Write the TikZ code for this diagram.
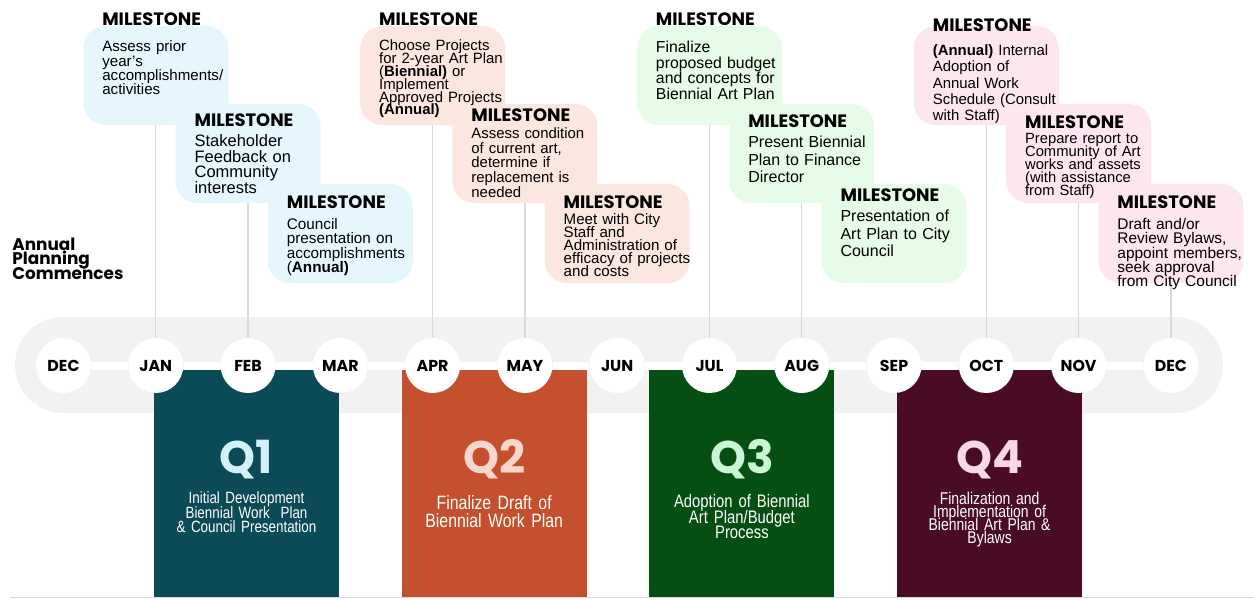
\documentclass[tikz,border=0pt]{standalone}
\usepackage{fontspec}
\setmainfont{Liberation Sans}
\newfontfamily\gothic{Poppins}
\newfontfamily\narrow[FakeStretch=0.82]{Liberation Sans}
\usepackage{tikz}
\usetikzlibrary{positioning}
\usepackage{xcolor}

\definecolor{bandgray}{HTML}{F2F2F2}
\definecolor{stemgray}{HTML}{D9D9D9}
\definecolor{q1col}{HTML}{0B4A57}
\definecolor{q1txt}{HTML}{D2F1F9}
\definecolor{q2col}{HTML}{C4502D}
\definecolor{q2txt}{HTML}{F7D7CD}
\definecolor{q3col}{HTML}{064F13}
\definecolor{q3txt}{HTML}{CBF6D6}
\definecolor{q4col}{HTML}{4A0C25}
\definecolor{q4txt}{HTML}{F9D7E6}
\definecolor{blueish}{HTML}{E5F7FC}
\definecolor{peach}{HTML}{FBE6E0}
\definecolor{mint}{HTML}{E6FCE8}
\definecolor{rose}{HTML}{FDE6EE}

\normallineskiplimit=-20pt
\lineskiplimit=-20pt

\tikzset{
	month/.style={circle, fill=white, minimum size=1.1cm, inner sep=0pt, font=\gothic\bfseries\fontsize{9}{9}\selectfont},
	quarter/.style={rectangle, minimum width=3.7cm, minimum height=4.54cm, inner sep=0pt},
	qnum/.style={anchor=base, inner sep=0pt, font=\gothic\bfseries\fontsize{26}{26}\selectfont},
	qsub/.style 2 args={anchor=base, inner sep=0pt, text width=3.6cm, align=center, text=white, font=\narrow\fontsize{#1}{#2}\selectfont},
	mbox/.style={rectangle, rounded corners=0.44cm, minimum width=2.9cm, minimum height=1.98cm, inner sep=0pt},
	mtitle/.style={anchor=base west, inner sep=0pt, font=\gothic\bfseries\fontsize{10.2}{10.2}\selectfont},
	mtext/.style 2 args={anchor=base west, inner sep=0pt, text width=2.8cm, align=left, font=\fontsize{#1}{#2}\selectfont},
	stem/.style={draw=stemgray, line width=0.7pt},
	strip/.style={draw=white, line width=0.16cm}
}

\begin{document}
\normallineskiplimit=-20pt
\lineskiplimit=-20pt
\begin{tikzpicture}[x=0.02cm, y=-0.02cm, node distance=1.846cm]
		\useasboundingbox (0,0) rectangle (1254,599);
		
		%band and base rule
		\fill[bandgray, rounded corners=0.96cm] (15,317) rectangle (1223,413);
		\draw[stemgray, line width=1pt] (10,597.5) -- (1254,597.5);
		
		%quarters
		\node[quarter, fill=q1col] (q1) at (246.5,483.5) {};
		\node[quarter, fill=q2col, right of=q1, node distance=4.955cm] (q2) {};
		\node[quarter, fill=q3col, right of=q2, node distance=4.955cm] (q3) {};
		\node[quarter, fill=q4col, right of=q3, node distance=4.955cm] (q4) {};
		
		%months
		\node[month] (pdec) at (63.5,365.5) {DEC};
		\node[month, right of=pdec] (jan) {JAN};
		\node[month, right of=jan] (feb) {FEB};
		\node[month, right of=feb] (mar) {MAR};
		\node[month, right of=mar] (apr) {APR};
		\node[month, right of=apr] (may) {MAY};
		\node[month, right of=may] (jun) {JUN};
		\node[month, right of=jun] (jul) {JUL};
		\node[month, right of=jul] (aug) {AUG};
		\node[month, right of=aug] (sep) {SEP};
		\node[month, right of=sep] (oct) {OCT};
		\node[month, right of=oct] (nov) {NOV};
		\node[month, right of=nov] (dec) {DEC};
		\draw[strip] (pdec) -- (jan) -- (feb) -- (mar) -- (apr) -- (may) -- (jun) -- (jul) -- (aug) -- (sep) -- (oct) -- (nov) -- (dec);
		
		%quarter labels
		\node[qnum, text=q1txt] (q1n) at ([shift={(0,104)}]q1.north) {Q1};
		\node[qsub={9.3}{8.3}] (q1s) at ([shift={(0,134)}]q1.north) {Initial Development\\Biennial Work~ Plan\\\& Council Presentation};
		\node[qnum, text=q2txt] (q2n) at ([shift={(0,104)}]q2.north) {Q2};
		\node[qsub={11}{10.2}] (q2s) at ([shift={(0,140)}]q2.north) {Finalize Draft of\\Biennial Work Plan};
		\node[qnum, text=q3txt] (q3n) at ([shift={(0,104)}]q3.north) {Q3};
		\node[qsub={10.3}{8.9}] (q3s) at ([shift={(0,138)}]q3.north) {Adoption of Biennial\\Art Plan/Budget\\Process};
		\node[qnum, text=q4txt] (q4n) at ([shift={(0,104)}]q4.north) {Q4};
		\node[qsub={9.7}{7.4}] (q4s) at ([shift={(0,135)}]q4.north) {Finalization and\\Implementation of\\Biennial Art Plan \&\\Bylaws};
		
		%start
		\node[anchor=base west, inner sep=0pt, text width=4cm, align=left, font=\gothic\bfseries\fontsize{9.6}{8.5}\selectfont] (start) at (12,250) {Annual\\Planning\\Commences};
		
		%milestone boxes
		\node[mbox, fill=blueish, above of=jan, node distance=5.8cm] (mjan) {};
		\node[mbox, fill=blueish, above of=feb, node distance=4.24cm] (mfeb) {};
		\node[mbox, fill=blueish, above of=mar, node distance=2.64cm] (mmar) {};
		\node[mbox, fill=peach, above of=apr, node distance=5.8cm] (mapr) {};
		\node[mbox, fill=peach, above of=may, node distance=4.24cm] (mmay) {};
		\node[mbox, fill=peach, above of=jun, node distance=2.64cm] (mjun) {};
		\node[mbox, fill=mint, above of=jul, node distance=5.8cm] (mjul) {};
		\node[mbox, fill=mint, above of=aug, node distance=4.24cm] (maug) {};
		\node[mbox, fill=mint, above of=sep, node distance=2.64cm] (msep) {};
		\node[mbox, fill=rose, above of=oct, node distance=5.8cm] (moct) {};
		\node[mbox, fill=rose, above of=nov, node distance=4.24cm] (mnov) {};
		\node[mbox, fill=rose, above of=dec, node distance=2.64cm] (mdec) {};
		
		%stems
		\draw[stem] (mjan) -- (jan);
		\draw[stem] (mfeb) -- (feb);
		\draw[stem] (mapr) -- (apr);
		\draw[stem] (mmay) -- (may);
		\draw[stem] (mjul) -- (jul);
		\draw[stem] (maug) -- (aug);
		\draw[stem] (moct) -- (oct);
		\draw[stem] (mnov) -- (nov);
		\draw[stem] (mdec) -- (dec);
		
		%jan
		\node[mtitle] (tjan) at ([shift={(19,0)}]mjan.north west) {MILESTONE};
		\node[mtext={8.6}{8.2}] (xjan) at ([shift={(19,26)}]mjan.north west) {Assess prior\\year's\\accomplishments/\\activities};
		%feb
		\node[mtitle] (tfeb) at ([shift={(19,23)}]mfeb.north west) {MILESTONE};
		\node[mtext={9.4}{8.9}] (xfeb) at ([shift={(19,43)}]mfeb.north west) {Stakeholder\\Feedback on\\Community\\interests};
		%mar
		\node[mtitle] (tmar) at ([shift={(19,25)}]mmar.north west) {MILESTONE};
		\node[mtext={8.7}{8.1}] (xmar) at ([shift={(19,46)}]mmar.north west) {Council\\presentation on\\accomplishments\\(\textbf{Annual)}};
		%apr
		\node[mtitle] (tapr) at ([shift={(19,0)}]mapr.north west) {MILESTONE};
		\node[mtext={8.5}{7.3}] (xapr) at ([shift={(19,25)}]mapr.north west) {Choose Projects\\for 2-year Art Plan\\(\textbf{Biennial)} or\\Implement\\Approved Projects\\\textbf{(Annual)}};
		%may
		\node[mtitle] (tmay) at ([shift={(19,18)}]mmay.north west) {MILESTONE};
		\node[mtext={8.5}{8.3}] (xmay) at ([shift={(19,35)}]mmay.north west) {Assess condition\\of current art,\\determine if\\replacement is\\needed};
		%jun
		\node[mtitle] (tjun) at ([shift={(19,25)}]mjun.north west) {MILESTONE};
		\node[mtext={8.6}{7.4}] (xjun) at ([shift={(19,41)}]mjun.north west) {Meet with City\\Staff and\\Administration of\\efficacy of projects\\and costs};
		%jul
		\node[mtitle] (tjul) at ([shift={(19,0)}]mjul.north west) {MILESTONE};
		\node[mtext={9}{8.9}] (xjul) at ([shift={(19,27)}]mjul.north west) {Finalize\\proposed budget\\and concepts for\\Biennial Art Plan};
		%aug
		\node[mtitle] (taug) at ([shift={(19,24)}]maug.north west) {MILESTONE};
		\node[mtext={9.1}{9.9}] (xaug) at ([shift={(19,44)}]maug.north west) {Present Biennial\\Plan to Finance\\Director};
		%sep
		\node[mtitle] (tsep) at ([shift={(19,18)}]msep.north west) {MILESTONE};
		\node[mtext={9.1}{9.9}] (xsep) at ([shift={(19,38)}]msep.north west) {Presentation of\\Art Plan to City\\Council};
		%oct
		\node[mtitle] (toct) at ([shift={(19,6)}]moct.north west) {MILESTONE};
		\node[mtext={8.5}{9.2}] (xoct) at ([shift={(19,30)}]moct.north west) {\textbf{(Annual)} Internal\\Adoption of\\Annual Work\\Schedule (Consult\\with Staff)};
		%nov
		\node[mtitle] (tnov) at ([shift={(19,25)}]mnov.north west) {MILESTONE};
		\node[mtext={8.4}{7.3}] (xnov) at ([shift={(19,40)}]mnov.north west) {Prepare report to\\Community of Art\\works and assets\\(with assistance\\from Staff)};
		%dec
		\node[mtitle] (tdec) at ([shift={(19,25)}]mdec.north west) {MILESTONE};
		\node[mtext={8.8}{8.1}] (xdec) at ([shift={(19,46)}]mdec.north west) {Draft and/or\\Review Bylaws,\\appoint members,\\seek approval\\from City Council};
		
\end{tikzpicture}
\end{document}
